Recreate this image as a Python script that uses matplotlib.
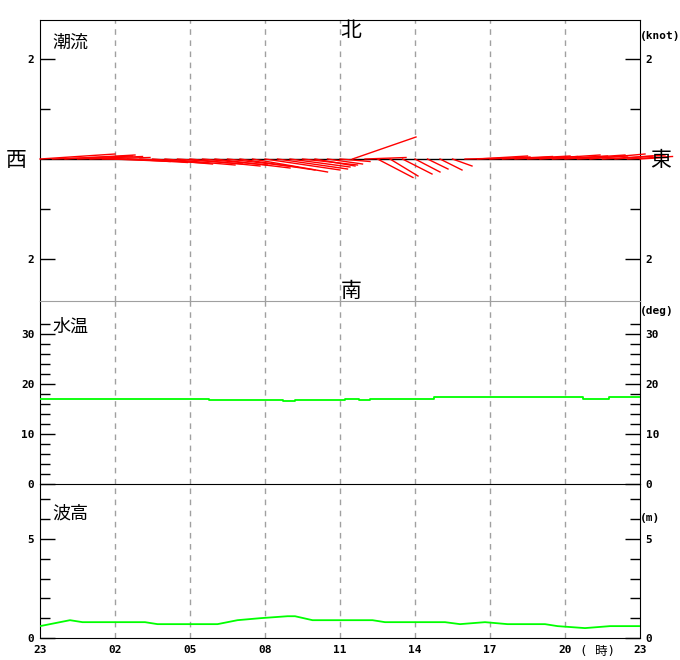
import matplotlib.pyplot as plt

plt.rcParams['font.family'] = ['DejaVu Sans Mono', 'Noto Sans CJK JP']

# x axis: hours counted from 23:00
tick_hours = [0, 3, 6, 9, 12, 15, 18, 21, 24]
tick_labels = ['23', '02', '05', '08', '11', '14', '17', '20', '23']

# tidal current every 30 min, east (u) / north (v) components in knots
cur_hours = [0.0, 0.5, 1.0, 1.5, 2.0, 2.5, 3.0, 3.5, 4.0, 4.5,
             5.0, 5.5, 6.0, 6.5, 7.0, 7.5, 8.0, 8.5, 9.0, 9.5,
             10.0, 10.5, 11.0, 11.5, 12.0, 12.5, 13.0, 13.5, 14.0, 14.5,
             15.0, 15.5, 16.0, 16.5, 17.0, 17.5, 18.0, 18.5, 19.0, 19.5,
             20.0, 20.5, 21.0, 21.5, 22.0, 22.5, 23.0, 23.5, 24.0]
cur_u = [1.5, 1.6, 1.4, 1.3, 1.2, 1.0, 1.1, 1.2, 1.3, 1.2,
         1.4, 1.3, 1.4, 1.3, 1.5, 1.4, 1.5, 1.5, 1.5, 1.4,
         1.2, 1.1, 0.8, 0.7, 0.6, 1.27, 0.82, 0.71, 0.56, 0.59,
         0.50, 0.41, 0.44, 0.39, 0.9, 1.0, 0.8, 1.0, 1.1, 1.0,
         1.2, 1.1, 1.2, 1.0, 1.1, 1.0, 1.0, 0.9, 0.5]
cur_v = [0.10, 0.06, 0.08, 0.05, 0.03, -0.02, -0.05, -0.07, -0.08, -0.10,
         -0.12, -0.10, -0.14, -0.12, -0.18, -0.16, -0.22, -0.26, -0.22, -0.20,
         -0.16, -0.12, -0.14, -0.10, -0.05, 0.44, 0.03, -0.37, -0.34, -0.30,
         -0.26, -0.20, -0.22, -0.14, 0.02, 0.06, 0.04, 0.05, 0.06, 0.05,
         0.08, 0.06, 0.08, 0.06, 0.10, 0.06, 0.08, 0.05, 0.03]

# water temperature (deg), step values
temp_hours = [0, 6.75, 9.73, 10.2, 12.2, 12.75, 13.2, 15.75, 21.7, 22.75, 24]
temp_vals = [17.1, 16.9, 16.7, 16.9, 17.1, 16.9, 17.1, 17.4, 17.1, 17.4, 17.4]

# wave height (m)
wave_hours = [0, 1.2, 1.7, 4.2, 4.7, 7.1, 7.9, 8.8, 9.9, 10.2, 10.9, 13.3,
              13.8, 16.2, 16.8, 17.8, 18.7, 20.2, 20.7, 21.8, 22.8, 24]
wave_vals = [0.6, 0.9, 0.8, 0.8, 0.7, 0.7, 0.9, 1.0, 1.1, 1.1, 0.9, 0.9,
             0.8, 0.8, 0.7, 0.8, 0.7, 0.7, 0.6, 0.5, 0.6, 0.6]

W, H = 680, 660
fig = plt.figure(figsize=(6.8, 6.6), dpi=100)
ax3 = fig.add_axes([40/W, 22/H, 600/W, 154/H])
ax2 = fig.add_axes([40/W, 176/H, 600/W, 183/H])
ax1 = fig.add_axes([40/W, 359/H, 600/W, 281/H])

grid_c = '#a0a0a0'


def setup(ax, major, labels, minor):
    ax.set_facecolor('none')
    ax.set_xlim(0, 24)
    ax.set_yticks(major)
    ax.set_yticklabels(labels, fontweight='bold', fontsize=8)
    ax.set_yticks(minor, minor=True)
    ax.tick_params(axis='y', which='major', direction='in', length=11, width=1,
                   left=True, right=True, labelleft=True, labelright=True, pad=4)
    ax.tick_params(axis='y', which='minor', direction='in', length=7, width=1,
                   left=True, right=True)
    ax.set_xticks(tick_hours)
    ax.tick_params(axis='x', length=0, labelbottom=False)
    for h in tick_hours[1:-1]:
        ax.axvline(h, color=grid_c, lw=1, ls=(0, (4, 4)), zorder=1)


# current sticks: 1 knot spans 2 hours on x (50 px), 1 knot on y
setup(ax1, [-2, 2], ['2', '2'], [-1, 1])
ax1.set_ylim(-2.84, 2.78)
ax1.axhline(0, color='black', lw=1, zorder=2)
for t, u, v in zip(cur_hours, cur_u, cur_v):
    ax1.plot([t, t + u * 2], [0, v], color='red', lw=1, clip_on=False, zorder=3)
ax1.spines['bottom'].set_color(grid_c)

setup(ax2, [0, 10, 20, 30], ['0', '10', '20', '30'],
      [2, 4, 6, 8, 12, 14, 16, 18, 22, 24, 26, 28, 32])
ax2.set_ylim(0, 36.6)
ax2.step(temp_hours, temp_vals, where='post', color='#00ff00', lw=1.3, zorder=3)
ax2.spines['top'].set_visible(False)

setup(ax3, [0, 5], ['0', '5'], [1, 2, 3, 4, 6, 7])
ax3.set_ylim(0, 7.78)
ax3.plot(wave_hours, wave_vals, color='#00ff00', lw=1.3, zorder=3)
ax3.spines['top'].set_visible(False)
ax3.tick_params(axis='x', labelbottom=True, pad=5)
ax3.set_xticklabels(tick_labels, fontweight='bold', fontsize=8)

cjk = 'Noto Sans CJK JP'
fig.text(52/W, 1 - 43/H, '潮流', family=cjk, fontsize=13, va='center')
fig.text(52/W, 1 - 327/H, '水温', family=cjk, fontsize=13, va='center')
fig.text(52/W, 1 - 514/H, '波高', family=cjk, fontsize=13, va='center')
fig.text(351/W, 1 - 31/H, '北', family=cjk, fontsize=15, ha='center', va='center')
fig.text(351/W, 1 - 291/H, '南', family=cjk, fontsize=15, ha='center', va='center')
fig.text(16/W, 1 - 160/H, '西', family=cjk, fontsize=15, ha='center', va='center')
fig.text(661/W, 1 - 160/H, '東', family=cjk, fontsize=15, ha='center', va='center')

fig.text(640/W, 1 - 36/H, '(knot)', fontsize=8, fontweight='bold', va='center')
fig.text(640/W, 1 - 311/H, '(deg)', fontsize=8, fontweight='bold', va='center')
fig.text(640/W, 1 - 518/H, '(m)', fontsize=8, fontweight='bold', va='center')
fig.text(597/W, 1 - 651/H, '( 時)', fontsize=9, ha='center', va='center')

fig.savefig('out.png', dpi=100, facecolor='white')
